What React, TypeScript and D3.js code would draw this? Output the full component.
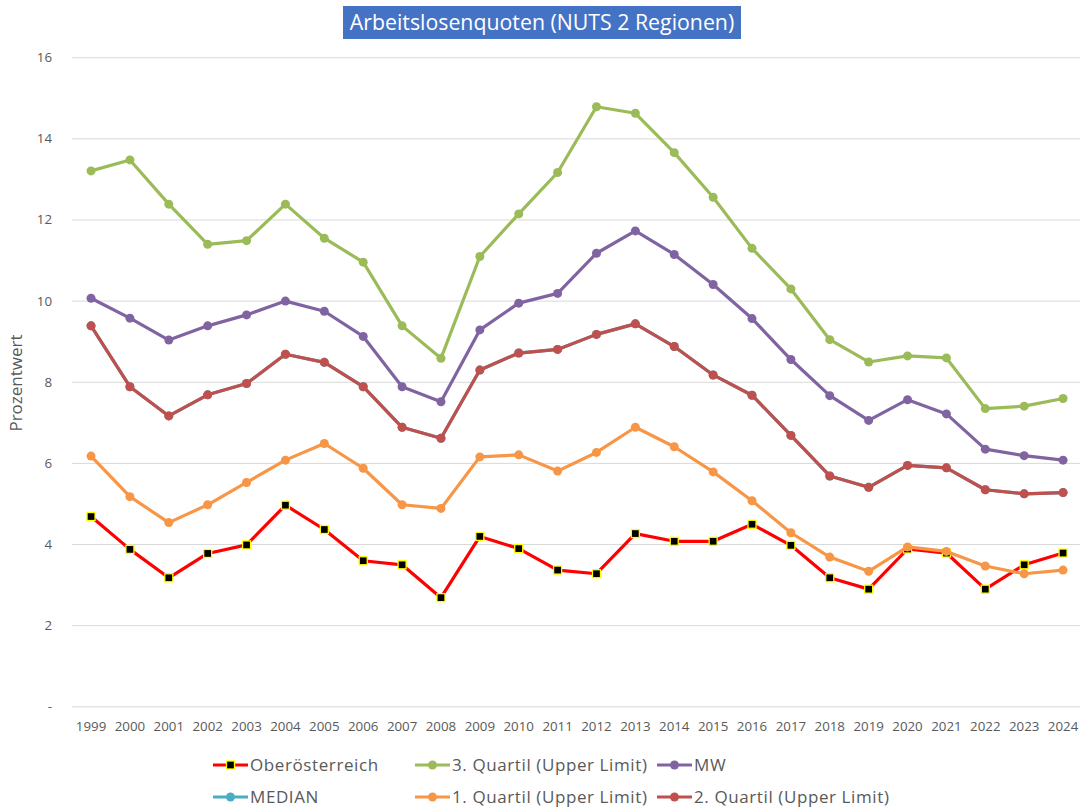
import React from "react";
import * as d3 from "d3";

const years = ["1999","2000","2001","2002","2003","2004","2005","2006","2007","2008","2009","2010","2011","2012","2013","2014","2015","2016","2017","2018","2019","2020","2021","2022","2023","2024"];
const oberoesterreich = [4.69,3.88,3.18,3.78,3.99,4.97,4.37,3.6,3.5,2.69,4.2,3.9,3.37,3.28,4.27,4.08,4.08,4.5,3.98,3.18,2.9,3.89,3.79,2.9,3.5,3.79];
const quartil3 = [13.21,13.48,12.39,11.4,11.49,12.39,11.55,10.96,9.39,8.59,11.1,12.15,13.17,14.79,14.63,13.66,12.56,11.3,10.3,9.05,8.5,8.65,8.6,7.35,7.41,7.6];
const mw = [10.07,9.58,9.04,9.39,9.66,10.0,9.75,9.13,7.89,7.52,9.29,9.95,10.19,11.18,11.73,11.15,10.41,9.57,8.56,7.67,7.06,7.57,7.22,6.35,6.19,6.08];
const median = [9.39,7.89,7.17,7.69,7.97,8.69,8.49,7.89,6.89,6.62,8.3,8.72,8.81,9.18,9.44,8.88,8.18,7.68,6.69,5.69,5.41,5.95,5.89,5.35,5.25,5.28];
const quartil1 = [6.18,5.18,4.54,4.98,5.53,6.08,6.49,5.88,4.98,4.89,6.16,6.21,5.81,6.27,6.89,6.41,5.79,5.08,4.29,3.69,3.34,3.94,3.83,3.47,3.28,3.37];
const quartil2 = [9.39,7.89,7.17,7.69,7.97,8.69,8.49,7.89,6.89,6.62,8.3,8.72,8.81,9.18,9.44,8.88,8.18,7.68,6.69,5.69,5.41,5.95,5.89,5.35,5.25,5.28];
const yTicks = [0,2,4,6,8,10,12,14,16];

const seriesNames = ["Oberösterreich","3. Quartil (Upper Limit)","MW","MEDIAN","1. Quartil (Upper Limit)","2. Quartil (Upper Limit)"];
const seriesColors = ["#FF0000","#9BBB59","#8064A2","#4BACC6","#F79646","#C0504D"];
const seriesData = [oberoesterreich, quartil3, mw, median, quartil1, quartil2];

export default function App() {
  const W = 1080, H = 809;
  const x = d3.scaleBand<string>().domain(years).range([71.6, 1082.5]);
  const y = d3.scaleLinear().domain([0, 16]).range([706.8, 57.7]);
  const cx = (yr: string) => (x(yr) as number) + x.bandwidth() / 2;
  const line = d3.line<number>().x((_, i) => cx(years[i])).y(d => y(d));
  const font = "'Open Sans', sans-serif";

  const legendPos = [
    { x: 213, y: 765 }, { x: 415, y: 765 }, { x: 657, y: 765 },
    { x: 213, y: 797 }, { x: 415, y: 797 }, { x: 657, y: 797 },
  ];

  const marker = (si: number, px: number, py: number, key: string) =>
    si === 0 ? (
      <rect key={key} x={px - 4} y={py - 4} width={8} height={8} fill="#000" stroke="#FFFF00" strokeWidth={1.3} />
    ) : (
      <circle key={key} cx={px} cy={py} r={4.5} fill={seriesColors[si]} />
    );

  return (
    <svg width={W} height={H} style={{ position: "absolute", left: 0, top: 0, background: "#fff" }} fontFamily={font}>
      <rect x={0} y={0} width={W} height={H} fill="#fff" />
      <rect x={343} y={6} width={398} height={33} fill="#4472C4" />
      <text x={542} y={29.5} textAnchor="middle" fill="#fff" fontSize={21.3}>Arbeitslosenquoten (NUTS 2 Regionen)</text>
      {yTicks.map(t => (
        <line key={t} x1={72} x2={1080} y1={y(t)} y2={y(t)} stroke="#D9D9D9" strokeWidth={1} />
      ))}
      {yTicks.map(t => (
        <text key={"l" + t} x={52} y={y(t) + 4.5} textAnchor="end" fontSize={13.3} fill="#595959">{t === 0 ? "-" : t}</text>
      ))}
      <text transform={`translate(22,383) rotate(-90)`} textAnchor="middle" fontSize={17} fill="#595959">Prozentwert</text>
      {years.map(yr => (
        <text key={yr} x={cx(yr)} y={731} textAnchor="middle" fontSize={13.3} fill="#595959">{yr}</text>
      ))}
      {seriesData.map((d, si) => (
        <g key={si}>
          <path d={line(d) || ""} fill="none" stroke={seriesColors[si]} strokeWidth={3.2} strokeLinejoin="round" />
          {d.map((v, i) => marker(si, cx(years[i]), y(v), si + "-" + i))}
        </g>
      ))}
      {seriesNames.map((n, si) => {
        const p = legendPos[si];
        return (
          <g key={n}>
            <line x1={p.x} x2={p.x + 35} y1={p.y} y2={p.y} stroke={seriesColors[si]} strokeWidth={3.2} />
            {marker(si, p.x + 17.5, p.y, "lg" + si)}
            <text x={p.x + 37} y={p.y + 6} fontSize={17} letterSpacing={0.6} fill="#595959">{n}</text>
          </g>
        );
      })}
    </svg>
  );
}
